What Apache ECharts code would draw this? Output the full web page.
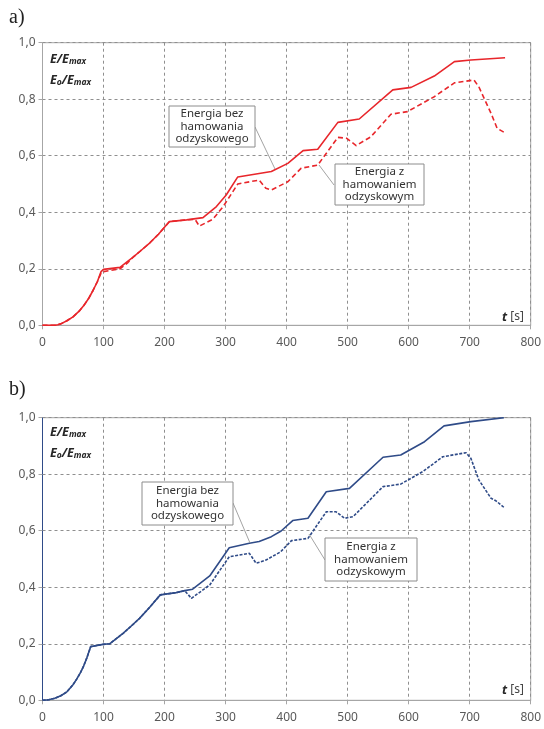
<!DOCTYPE html>
<html><head><meta charset="utf-8">
<script src="https://cdn.jsdelivr.net/npm/echarts@6/dist/echarts.min.js"></script>
<style>html,body{margin:0;padding:0;background:#fff}#c{width:544px;height:729px}</style>
</head><body><div id="c"></div>
<script>
// ---- data ----
const xTicks = [0,100,200,300,400,500,600,700,800];
const yTicks = [0,0.2,0.4,0.6,0.8,1.0];

const tA_solid = [0,20,25,30,40,50,60,67,75,83,90,96,100,127,140,148,160,176,190,208,236,263,285,301,320,375,402,427,451,484,519,574,604,642,675,702,758];
const vA_solid = [0,0,0.002,0.005,0.016,0.03,0.05,0.068,0.093,0.124,0.155,0.19,0.198,0.205,0.227,0.24,0.262,0.292,0.322,0.367,0.373,0.381,0.42,0.461,0.525,0.544,0.573,0.618,0.623,0.718,0.73,0.833,0.842,0.882,0.933,0.939,0.947];

const tA_dash = [0,20,25,30,40,50,60,67,75,83,90,96,100,127,140,148,160,176,190,208,236,250,257,279,296,320,355,366,375,402,424,451,484,498,514,538,571,598,642,675,707,715,735,745,758];
const vA_dash = [0,0,0.002,0.005,0.016,0.03,0.05,0.068,0.093,0.124,0.155,0.185,0.19,0.2,0.222,0.24,0.262,0.292,0.322,0.367,0.373,0.375,0.351,0.375,0.42,0.5,0.514,0.485,0.479,0.508,0.556,0.567,0.665,0.662,0.636,0.667,0.747,0.756,0.809,0.858,0.868,0.844,0.75,0.697,0.681];

const tB_solid = [0,10,20,30,40,50,56,62,67,73,79,99,110,132,145,159,176,193,219,233,246,274,306,339,355,375,391,410,435,465,503,558,587,626,658,702,756];
const vB_solid = [0,0.002,0.007,0.016,0.03,0.055,0.075,0.097,0.119,0.152,0.19,0.198,0.2,0.237,0.262,0.29,0.33,0.373,0.381,0.388,0.393,0.44,0.54,0.556,0.562,0.579,0.599,0.636,0.644,0.738,0.75,0.86,0.868,0.915,0.971,0.986,1.0];

const tB_dash = [0,10,20,30,40,50,56,62,67,73,79,99,110,132,145,159,176,193,219,233,244,274,306,339,350,366,390,408,435,465,481,495,509,558,587,623,656,694,702,715,735,743,756];
const vB_dash = [0,0.002,0.007,0.016,0.03,0.055,0.075,0.097,0.119,0.152,0.19,0.198,0.2,0.237,0.262,0.29,0.33,0.373,0.381,0.388,0.361,0.408,0.508,0.52,0.485,0.496,0.525,0.565,0.573,0.667,0.667,0.644,0.65,0.756,0.765,0.809,0.862,0.876,0.856,0.78,0.715,0.706,0.683];

const zip = (t, v) => t.map((x, i) => [x, v[i]]);

const RED = '#E8262B';
const BLUE = '#2F4B88';
const GRID = '#8f8f8f';
const FONT = 'Noto Sans';

function xAxis(gi) {
  return {
    gridIndex: gi, type: 'value', min: 0, max: 800, interval: 100,
    axisLine: {show: true, lineStyle: {color: '#a6a6a6', width: 1}},
    axisTick: {show: true, inside: false, length: 4, lineStyle: {color: '#a6a6a6'}},
    axisLabel: {color: '#595959', fontSize: 12, fontFamily: FONT, margin: 11},
    splitLine: {show: true, lineStyle: {color: GRID, type: [3, 3], width: 1}}
  };
}
function yAxis(gi, lineColor) {
  return {
    gridIndex: gi, type: 'value', min: 0, max: 1, interval: 0.2,
    axisLine: {show: true, lineStyle: {color: lineColor, width: 1}},
    axisTick: {show: true, inside: false, length: 4, lineStyle: {color: '#a6a6a6'}},
    axisLabel: {color: '#595959', fontSize: 12, fontFamily: FONT, margin: 7,
      formatter: v => v.toFixed(1).replace('.', ',')},
    splitLine: {show: true, lineStyle: {color: GRID, type: [3, 3], width: 1}}
  };
}

const chart = echarts.init(document.getElementById('c'), null, {renderer: 'canvas'});

const RICH = {
  b: {fontSize: 12.5, fontWeight: 'bold', fontStyle: 'italic', fill: '#262626', fontFamily: FONT, verticalAlign: 'bottom', lineHeight: 15},
  s: {fontSize: 8.5, fontWeight: 'bold', fontStyle: 'italic', fill: '#262626', fontFamily: FONT, verticalAlign: 'bottom', lineHeight: 11}
};
function labelText(x, y) {
  return [
    {type: 'text', x: x, y: y, style: {text: '{b|E/E}{s|max}', rich: RICH}},
    {type: 'text', x: x, y: y + 21, style: {text: '{b|E}{s|o}{b|/E}{s|max}', rich: RICH}}
  ];
}
function tLabel(x, y) {
  return {type: 'text', x: x, y: y, style: {
    text: '{b|t} {n|[s]}', align: 'right', verticalAlign: 'middle', rich: {
      b: {fontSize: 12.5, fontWeight: 'bold', fontStyle: 'italic', fill: '#262626', fontFamily: FONT},
      n: {fontSize: 12, fill: '#444', fontFamily: FONT}
    }}};
}
function box(x, y, w, h, lines) {
  return {type: 'group', children: [
    {type: 'rect', shape: {x: x, y: y, width: w, height: h}, style: {fill: '#fff', stroke: '#8c8c8c', lineWidth: 1}, z: 10},
    {type: 'text', x: x + w / 2, y: y + h / 2, z: 11, style: {
      text: lines.join('\n'), align: 'center', verticalAlign: 'middle',
      fontSize: 11.5, lineHeight: 12.5, fontFamily: FONT, fill: '#333'}}
  ]};
}
function leader(x1, y1, x2, y2) {
  return {type: 'line', z: 9, shape: {x1: x1, y1: y1, x2: x2, y2: y2}, style: {stroke: '#8c8c8c', lineWidth: 0.8}};
}

const lineBase = {type: 'line', showSymbol: false, symbol: 'none', smooth: false};

const option = {
  animation: false,
  backgroundColor: '#fff',
  grid: [
    {left: 42.5, right: 12, top: 42.7, height: 282.6, show: true, borderColor: '#a6a6a6', borderWidth: 1},
    {left: 42.5, right: 12, top: 417.7, height: 282.6, show: true, borderColor: '#a6a6a6', borderWidth: 1}
  ],
  xAxis: [xAxis(0), xAxis(1)],
  yAxis: [yAxis(0, '#a6a6a6'), yAxis(1, BLUE)],
  series: [
    {...lineBase, xAxisIndex: 0, yAxisIndex: 0, data: zip(tA_solid, vA_solid), lineStyle: {color: RED, width: 1.6, join: 'round'}},
    {...lineBase, xAxisIndex: 0, yAxisIndex: 0, data: zip(tA_dash, vA_dash), lineStyle: {color: RED, width: 1.6, type: [5, 3], join: 'round'}},
    {...lineBase, xAxisIndex: 1, yAxisIndex: 1, data: zip(tB_solid, vB_solid), lineStyle: {color: BLUE, width: 1.6, join: 'round'}},
    {...lineBase, xAxisIndex: 1, yAxisIndex: 1, data: zip(tB_dash, vB_dash), lineStyle: {color: BLUE, width: 1.6, type: [3, 1.5], join: 'round'}}
  ],
  graphic: [
    {type: 'text', x: 9, y: 8, style: {text: 'a)', fontSize: 20, fontFamily: 'Liberation Serif', fill: '#222'}},
    {type: 'text', x: 9, y: 380, style: {text: 'b)', fontSize: 20, fontFamily: 'Liberation Serif', fill: '#222'}},
    ...labelText(50, 51),
    ...labelText(50, 424),
    tLabel(524, 317),
    tLabel(524, 690),
    leader(255, 127, 275, 169),
    box(169, 106, 86, 41, ['Energia bez', 'hamowania', 'odzyskowego']),
    leader(334, 185, 319, 165),
    box(335, 164, 89, 41, ['Energia z', 'hamowaniem', 'odzyskowym']),
    leader(233, 503, 250, 543),
    box(142, 482, 91, 43, ['Energia bez', 'hamowania', 'odzyskowego']),
    leader(325, 560, 309, 534),
    box(325, 538, 92, 43, ['Energia z', 'hamowaniem', 'odzyskowym'])
  ]
};
chart.setOption(option);
</script>
</body></html>
